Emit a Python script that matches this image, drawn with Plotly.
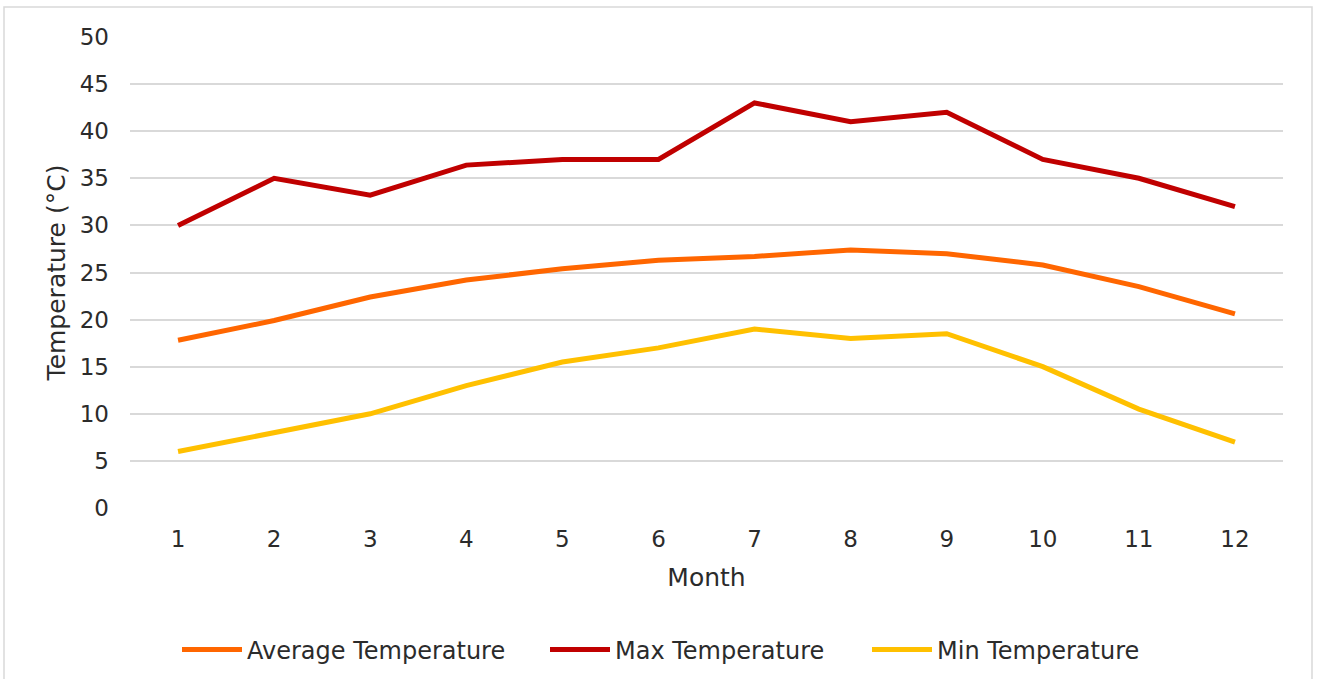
import plotly.graph_objects as go

months = list(range(1, 13))
avg_temp = [17.8, 19.9, 22.4, 24.2, 25.4, 26.3, 26.7, 27.4, 27.0, 25.8, 23.5, 20.6]
max_temp = [30.0, 35.0, 33.2, 36.4, 37.0, 37.0, 43.0, 41.0, 42.0, 37.0, 35.0, 32.0]
min_temp = [6.0, 8.0, 10.0, 13.0, 15.5, 17.0, 19.0, 18.0, 18.5, 15.0, 10.5, 7.0]

series = [
    ("Average Temperature", avg_temp, "#FF6600", "legend", 183),
    ("Max Temperature", max_temp, "#C00000", "legend2", 551),
    ("Min Temperature", min_temp, "#FFC000", "legend3", 873),
]

font_fam = "DejaVu Sans, Verdana, sans-serif"
txt = "#2b2b2b"
W, H = 1319, 679
L, R, T, B = 130, 36, 37, 171
pw, ph = W - L - R, H - T - B
plot_bottom = H - B

fig = go.Figure()
legends = {}
for name, vals, color, lg, lx in series:
    fig.add_trace(go.Scatter(x=months, y=vals, name=name, mode="lines", legend=lg,
                             line=dict(color=color, width=5)))
    legends[lg] = dict(orientation="h", xref="container", yref="container",
                       x=(lx - 6) / W, xanchor="left", y=1 - 650 / H, yanchor="middle",
                       font=dict(size=24, family=font_fam, color=txt), itemwidth=60,
                       bgcolor="rgba(0,0,0,0)", borderwidth=0)

fig.update_layout(
    width=W, height=H,
    margin=dict(l=L, r=R, t=T, b=B, autoexpand=False),
    paper_bgcolor="white", plot_bgcolor="white",
    font=dict(family=font_fam, color=txt, size=23),
    showlegend=True,
    xaxis=dict(range=[0.5, 12.5], tickmode="array", tickvals=months,
               ticktext=[str(m) for m in months], showgrid=False, zeroline=False,
               showline=False, ticks="", tickfont=dict(size=23),
               ticklabelstandoff=15,
               title=dict(text="Month", font=dict(size=25), standoff=17)),
    yaxis=dict(range=[0, 50], dtick=5, showgrid=True, gridcolor="#d9d9d9", gridwidth=1.5,
               zeroline=False, showline=False, ticks="", tickfont=dict(size=23),
               ticklabelstandoff=20,
               title=dict(text="Temperature (°C)", font=dict(size=25), standoff=6)),
    shapes=[dict(type="rect", xref="paper", yref="paper",
                 x0=(4 - L) / pw, x1=(1312 - L) / pw,
                 y0=(plot_bottom - (H + 2)) / ph, y1=(plot_bottom - 7) / ph,
                 line=dict(color="#d9d9d9", width=1.5), layer="below")],
    **legends,
)

fig.write_html("out.html", config={"displayModeBar": False},
               post_script="document.body.style.margin='0px';document.body.style.padding='0px';")
